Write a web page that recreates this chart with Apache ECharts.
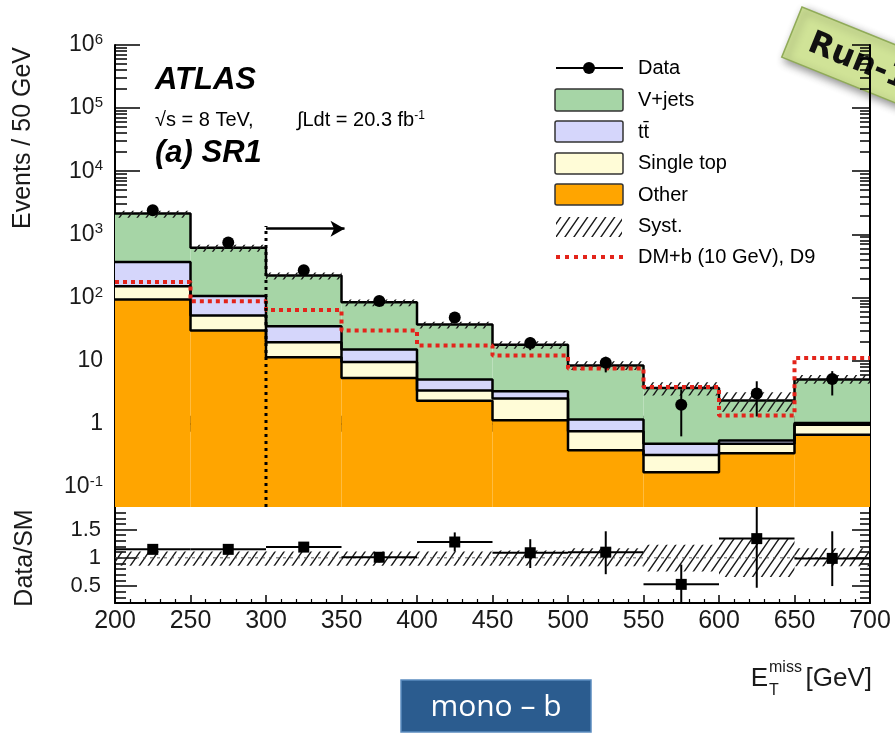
<!DOCTYPE html>
<html><head><meta charset="utf-8">
<script src="https://cdn.jsdelivr.net/npm/echarts@6/dist/echarts.min.js"></script>
<style>html,body{margin:0;padding:0;background:#fff}#c{width:895px;height:735px}</style>
</head><body><div id="c"></div>
<script>
// ---------- data ----------
const binEdges   = [200,250,300,350,400,450,500,550,600,650,700];
const binCenters = [225,275,325,375,425,475,525,575,625,675];
const other      = [93, 30, 11.3, 5.3, 2.3, 1.13, 0.38, 0.17, 0.34, 0.67];
const singleTop  = [58, 22, 8.2, 4.2, 1.05, 1.37, 0.38, 0.15, 0.14, 0.29];
const ttbar      = [212, 53, 15.5, 5.5, 1.65, 0.76, 0.40, 0.16, 0.06, 0.07];
const vjets      = [1770, 510, 188, 69, 32.3, 14.6, 7.2, 3.2, 1.8, 4.0];
const dataVals   = [2400, 740, 270, 88, 48, 19, 9.2, 2.0, 3.0, 5.1];
const dataHi     = [2450, 768, 286, 97, 55, 23.4, 11.5, 3.5, 4.7, 6.8];
const dataLo     = [2350, 713, 254, 79, 41, 14.6, 6.5, 0.63, 1.3, 2.8];
const dmSignal   = [175, 87, 63, 30, 17.3, 12, 7.5, 3.8, 1.35, 11];
const systUp     = [0.11, 0.11, 0.11, 0.11, 0.11, 0.13, 0.17, 0.23, 0.34, 0.17];
const systDown   = [0.14, 0.14, 0.14, 0.14, 0.14, 0.14, 0.15, 0.24, 0.34, 0.15];
const ratioVals  = [1.15, 1.15, 1.19, 1.01, 1.28, 1.09, 1.10, 0.53, 1.34, 0.99];
const ratioHi    = [1.18, 1.19, 1.25, 1.10, 1.45, 1.33, 1.47, 0.88, 2.10, 1.47];
const ratioLo    = [1.12, 1.11, 1.13, 0.92, 1.11, 0.82, 0.71, 0.10, 0.47, 0.50];
const yMajorTicks = [-1, 0, 1, 2, 3, 4, 5, 6];
const ratioMajorTicks = [0.5, 1, 1.5];
const ratioMinorTicks = [0.3,0.4,0.6,0.7,0.8,0.9,1.1,1.2,1.3,1.4,1.6,1.7,1.8];
const cutAt = 300, arrowTo = 352, arrowLevel = 1230, cutTop = 1350;
const layerNames  = ['Other', 'Single top', 't\u0304t', 'V+jets'];
const layerColors = ['#ffa500', '#fffcd7', '#d5d6fb', '#a6d5a6'];

// ---------- axis ranges ----------
const yMainMin = -1.32, yMainMax = 6;
const rMin = 0.2, rMax = 1.9;
const FONT = '"Liberation Sans", Arial, Helvetica, sans-serif';

const logMinorTicks = [];
for (let n = -2; n <= 5; n++) for (let k = 2; k <= 9; k++) {
  const v = Math.log10(k * Math.pow(10, n));
  if (v > yMainMin && v < yMainMax) logMinorTicks.push(v);
}

// ---------- stacking ----------
const layers = [other, singleTop, ttbar, vjets];
const cum = [];
let run = binCenters.map(() => 0);
layers.forEach(l => { run = run.map((r, i) => r + l[i]); cum.push(run.slice()); });
const total = cum[3];
const L = Math.log10;

// ---------- hatch pattern ----------
function makeHatch(w, h, color, lw) {
  const c = document.createElement('canvas'); c.width = w; c.height = h;
  const g = c.getContext('2d'); g.strokeStyle = color; g.lineWidth = lw;
  g.beginPath();
  for (let s = -1; s <= 1; s++) { g.moveTo(s * w - w, 2 * h); g.lineTo(s * w + 2 * w, -h); }
  g.stroke();
  return {image: c, repeat: 'repeat'};
}
const hatch = makeHatch(9, 13, '#1a1a1a', 1.4);

// ---------- render helpers ----------
function rectRender(fill) {
  return function (params, api) {
    const a = api.coord([api.value(0), api.value(3)]);
    const b = api.coord([api.value(1), api.value(2)]);
    return {type: 'rect', shape: {x: a[0], y: a[1], width: b[0] - a[0], height: b[1] - a[1]}, style: {fill: fill}};
  };
}
function stepData(vals) {
  const d = vals.map((v, i) => [binEdges[i], L(v)]);
  d.push([binEdges[binEdges.length - 1], L(vals[vals.length - 1])]);
  return d;
}

const series = [];
// stacked fills
layers.forEach((lay, k) => {
  series.push({
    type: 'custom', name: layerNames[k], xAxisIndex: 0, yAxisIndex: 0, z: 2, silent: true,
    renderItem: rectRender(layerColors[k]), encode: {x: [0, 1], y: [2, 3]},
    data: binCenters.map((_, i) => [binEdges[i], binEdges[i + 1], k === 0 ? yMainMin : L(cum[k - 1][i]), L(cum[k][i])])
  });
});
// outlines
cum.forEach((c, k) => {
  series.push({type: 'line', step: 'end', xAxisIndex: 0, yAxisIndex: 0, z: 3, silent: true,
    symbol: 'none', data: stepData(c), lineStyle: {color: '#000', width: 2.5}});
});
// syst band main
series.push({type: 'custom', name: 'Syst.', xAxisIndex: 0, yAxisIndex: 0, z: 4, silent: true,
  renderItem: rectRender(hatch), encode: {x: [0, 1], y: [2, 3]},
  data: binCenters.map((_, i) => [binEdges[i], binEdges[i + 1], L(total[i] * (1 - systDown[i])), L(total[i] * (1 + systUp[i]))])});
// DM signal
series.push({type: 'line', step: 'end', name: 'DM+b (10 GeV), D9', xAxisIndex: 0, yAxisIndex: 0, z: 5, silent: true,
  symbol: 'none', data: stepData(dmSignal), lineStyle: {color: '#e3241b', width: 4, type: [4, 4], cap: 'butt'}});
// cut line + arrow
series.push({type: 'line', xAxisIndex: 0, yAxisIndex: 0, z: 6, silent: true, symbol: 'none',
  data: [[cutAt, yMainMin], [cutAt, L(cutTop)]], lineStyle: {color: '#000', width: 3, type: [3, 4]},
  markLine: {silent: true, symbol: ['none', 'arrow'], symbolSize: [12, 14], label: {show: false},
    lineStyle: {color: '#000', width: 2.5, type: 'solid'},
    data: [[{coord: [cutAt, L(arrowLevel)]}, {coord: [arrowTo, L(arrowLevel)]}]]}});
// data error bars
series.push({type: 'custom', xAxisIndex: 0, yAxisIndex: 0, z: 7, silent: true,
  renderItem: function (params, api) {
    const a = api.coord([api.value(0), api.value(1)]), b = api.coord([api.value(0), api.value(2)]);
    return {type: 'line', shape: {x1: a[0], y1: a[1], x2: b[0], y2: b[1]}, style: {stroke: '#000', lineWidth: 2}};
  }, encode: {x: 0, y: [1, 2]},
  data: binCenters.map((x, i) => [x, L(dataLo[i]), L(dataHi[i])])});
series.push({type: 'scatter', name: 'Data', xAxisIndex: 0, yAxisIndex: 0, z: 8, silent: true,
  symbol: 'circle', symbolSize: 12, itemStyle: {color: '#000', opacity: 1},
  data: binCenters.map((x, i) => [x, L(dataVals[i])])});

// ratio panel
series.push({type: 'custom', xAxisIndex: 2, yAxisIndex: 4, z: 2, silent: true,
  renderItem: rectRender(hatch), encode: {x: [0, 1], y: [2, 3]},
  data: binCenters.map((_, i) => [binEdges[i], binEdges[i + 1], 1 - systDown[i], 1 + systUp[i]])});
series.push({type: 'line', xAxisIndex: 2, yAxisIndex: 4, z: 3, silent: true, symbol: 'none',
  data: [[binEdges[0], 1], [binEdges[10], 1]], lineStyle: {color: '#555', width: 1, type: [3, 4]}});
series.push({type: 'custom', xAxisIndex: 2, yAxisIndex: 4, z: 4, silent: true,
  renderItem: function (params, api) {
    const x0 = api.value(0), x1 = api.value(1), xc = api.value(2), v = api.value(3);
    const lo = Math.max(api.value(4), rMin), hi = Math.min(api.value(5), rMax);
    const h0 = api.coord([x0, v]), h1 = api.coord([x1, v]);
    const v0 = api.coord([xc, lo]), v1 = api.coord([xc, hi]);
    return {type: 'group', children: [
      {type: 'line', shape: {x1: h0[0], y1: h0[1], x2: h1[0], y2: h1[1]}, style: {stroke: '#000', lineWidth: 2}},
      {type: 'line', shape: {x1: v0[0], y1: v0[1], x2: v1[0], y2: v1[1]}, style: {stroke: '#000', lineWidth: 2}}
    ]};
  }, encode: {x: [0, 1], y: 3},
  data: binCenters.map((x, i) => [binEdges[i], binEdges[i + 1], x, ratioVals[i], ratioLo[i], ratioHi[i]])});
series.push({type: 'scatter', xAxisIndex: 2, yAxisIndex: 4, z: 5, silent: true,
  symbol: 'rect', symbolSize: 11, itemStyle: {color: '#000', opacity: 1},
  data: binCenters.map((x, i) => [x, ratioVals[i]])});

// ---------- axes ----------
const axLine = {show: true, lineStyle: {color: '#000', width: 2}};
function xAx(grid, pos, labels) {
  return {type: 'value', gridIndex: grid, position: pos, min: 200, max: 700, interval: 50,
    axisLine: axLine, splitLine: {show: false},
    axisTick: {show: true, inside: true, length: 8, lineStyle: {color: '#000', width: 1.5}},
    minorTick: {show: true, splitNumber: 5, length: 4, lineStyle: {color: '#000', width: 1.2}},
    axisLabel: labels ? {show: true, margin: 6, fontSize: 25, color: '#1a1a1a', fontFamily: FONT, showMinLabel: true, showMaxLabel: true} : {show: false}};
}
function yAx(grid, pos, min, max, ticks, len, labelOpt, showLine) {
  return {type: 'value', gridIndex: grid, position: pos, min: min, max: max,
    axisLine: showLine ? axLine : {show: false}, splitLine: {show: false},
    axisTick: {show: true, inside: true, length: len, customValues: ticks, lineStyle: {color: '#000', width: 1.5}},
    axisLabel: labelOpt || {show: false}};
}
const mainLabel = {show: true, customValues: yMajorTicks, margin: 12, fontSize: 23, color: '#1a1a1a', fontFamily: FONT,
  formatter: v => v === 0 ? '1' : (v === 1 ? '10' : '10{s|' + (v === -1 ? '-1' : String(v)) + '}'),
  rich: {s: {fontSize: 15, verticalAlign: 'top', fontFamily: FONT, color: '#1a1a1a', padding: [0, 0, 10, 0]}}};
const ratioLabel = {show: true, customValues: ratioMajorTicks, margin: 14, fontSize: 22, color: '#1a1a1a', fontFamily: FONT,
  formatter: v => String(v)};

const option = {
  animation: false,
  backgroundColor: '#fff',
  grid: [
    {left: 115, top: 45, width: 755, height: 462},
    {left: 115, top: 507, width: 755, height: 96}
  ],
  xAxis: [xAx(0, 'bottom', false), xAx(0, 'top', false), xAx(1, 'bottom', true)],
  yAxis: [
    yAx(0, 'left', yMainMin, yMainMax, yMajorTicks, 25, mainLabel, true),
    yAx(0, 'left', yMainMin, yMainMax, logMinorTicks, 12, null, false),
    yAx(0, 'right', yMainMin, yMainMax, yMajorTicks, 18, null, true),
    yAx(0, 'right', yMainMin, yMainMax, logMinorTicks, 10, null, false),
    yAx(1, 'left', rMin, rMax, ratioMajorTicks, 22, ratioLabel, true),
    yAx(1, 'left', rMin, rMax, ratioMinorTicks, 11, null, false),
    yAx(1, 'right', rMin, rMax, ratioMajorTicks, 18, null, true),
    yAx(1, 'right', rMin, rMax, ratioMinorTicks, 10, null, false)
  ],
  series: series,
  graphic: [
    // axis titles
    {type: 'text', x: 23, y: 138, rotation: Math.PI / 2, style: {text: 'Events / 50 GeV', font: '25px ' + FONT, fill: '#1a1a1a', align: 'center', verticalAlign: 'middle', textAlign: 'center', textVerticalAlign: 'middle'}},
    {type: 'text', x: 25, y: 558, rotation: Math.PI / 2, style: {text: 'Data/SM', font: '25px ' + FONT, fill: '#1a1a1a', align: 'center', verticalAlign: 'middle', textAlign: 'center', textVerticalAlign: 'middle'}},
    {type: 'text', x: 872, y: 679, style: {text: '[GeV]', font: '26px ' + FONT, fill: '#1a1a1a', align: 'right', verticalAlign: 'middle', textAlign: 'right', textVerticalAlign: 'middle'}},
    {type: 'text', x: 768, y: 679, style: {text: 'E', font: '26px ' + FONT, fill: '#1a1a1a', align: 'right', verticalAlign: 'middle', textAlign: 'right', textVerticalAlign: 'middle'}},
    {type: 'text', x: 769, y: 668, style: {text: 'miss', font: '16px ' + FONT, fill: '#1a1a1a', align: 'left', verticalAlign: 'middle', textAlign: 'left', textVerticalAlign: 'middle'}},
    {type: 'text', x: 769, y: 691, style: {text: 'T', font: '16px ' + FONT, fill: '#1a1a1a', align: 'left', verticalAlign: 'middle', textAlign: 'left', textVerticalAlign: 'middle'}},
    // ATLAS labels
    {type: 'text', x: 155, y: 80, style: {text: 'ATLAS', font: 'italic bold 31px ' + FONT, fill: '#000', verticalAlign: 'middle', textVerticalAlign: 'middle'}},
    {type: 'text', x: 155, y: 120, style: {text: '\u221As = 8 TeV,', font: '20px ' + FONT, fill: '#000', verticalAlign: 'middle', textVerticalAlign: 'middle'}},
    {type: 'text', x: 297, y: 120, style: {text: '\u222BLdt = 20.3 fb{s|-1}', font: '20px ' + FONT, fill: '#000', verticalAlign: 'middle', textVerticalAlign: 'middle',
      rich: {s: {font: '12px ' + FONT, verticalAlign: 'top', fill: '#000', padding: [0, 0, 8, 0]}}}},
    {type: 'text', x: 155, y: 153, style: {text: '(a) SR1', font: 'italic bold 31px ' + FONT, fill: '#000', verticalAlign: 'middle', textVerticalAlign: 'middle'}},
    // legend
    {type: 'line', shape: {x1: 556, y1: 68, x2: 623, y2: 68}, style: {stroke: '#000', lineWidth: 2}},
    {type: 'circle', shape: {cx: 589, cy: 68, r: 6}, style: {fill: '#000'}},
    {type: 'rect', shape: {x: 555, y: 89, width: 68, height: 22, r: 2}, style: {fill: layerColors[3], stroke: '#333', lineWidth: 1.5}},
    {type: 'rect', shape: {x: 555, y: 121, width: 68, height: 21, r: 2}, style: {fill: layerColors[2], stroke: '#333', lineWidth: 1.5}},
    {type: 'rect', shape: {x: 555, y: 153, width: 68, height: 21, r: 2}, style: {fill: layerColors[1], stroke: '#333', lineWidth: 1.5}},
    {type: 'rect', shape: {x: 555, y: 184, width: 68, height: 21, r: 2}, style: {fill: layerColors[0], stroke: '#333', lineWidth: 1.5}},
    {type: 'rect', shape: {x: 556, y: 217, width: 66, height: 20}, style: {fill: hatch}},
    {type: 'line', shape: {x1: 556, y1: 257, x2: 623, y2: 257}, style: {stroke: '#e3241b', lineWidth: 4, lineDash: [4, 5]}},
    {type: 'text', x: 638, y: 68, style: {text: 'Data', font: '20px ' + FONT, fill: '#000', verticalAlign: 'middle', textVerticalAlign: 'middle'}},
    {type: 'text', x: 638, y: 100, style: {text: 'V+jets', font: '20px ' + FONT, fill: '#000', verticalAlign: 'middle', textVerticalAlign: 'middle'}},
    {type: 'text', x: 638, y: 132, style: {text: 't\u0074\u0304', font: '20px ' + FONT, fill: '#000', verticalAlign: 'middle', textVerticalAlign: 'middle'}},
    {type: 'text', x: 638, y: 163, style: {text: 'Single top', font: '20px ' + FONT, fill: '#000', verticalAlign: 'middle', textVerticalAlign: 'middle'}},
    {type: 'text', x: 638, y: 195, style: {text: 'Other', font: '20px ' + FONT, fill: '#000', verticalAlign: 'middle', textVerticalAlign: 'middle'}},
    {type: 'text', x: 638, y: 226, style: {text: 'Syst.', font: '20px ' + FONT, fill: '#000', verticalAlign: 'middle', textVerticalAlign: 'middle'}},
    {type: 'text', x: 638, y: 257, style: {text: 'DM+b (10 GeV), D9', font: '20px ' + FONT, fill: '#000', verticalAlign: 'middle', textVerticalAlign: 'middle'}},
    // mono-b box
    {type: 'rect', shape: {x: 401, y: 680, width: 190, height: 52}, style: {fill: '#2b5c8f', stroke: '#5b8cc0', lineWidth: 1.5}},
    {type: 'text', x: 496, y: 707, style: {text: 'mono \u2013 b', font: '30px "Open Sans", ' + FONT, fill: '#fff', align: 'center', verticalAlign: 'middle', textAlign: 'center', textVerticalAlign: 'middle'}},
    // Run-1 sticker
    {type: 'group', x: 802, y: 7, rotation: -22 * Math.PI / 180, z: 100, children: [
      {type: 'rect', shape: {x: 0, y: 0, width: 200, height: 54}, style: {fill: '#d0e397', stroke: '#90ab58', lineWidth: 1.5, shadowBlur: 8, shadowColor: 'rgba(0,0,0,0.45)', shadowOffsetX: 3, shadowOffsetY: 4}},
      {type: 'text', x: 20, y: 30, style: {text: 'Run-1', font: 'bold 32px "DejaVu Sans", sans-serif', fill: '#111', verticalAlign: 'middle', textVerticalAlign: 'middle'}}
    ]}
  ]
};
const chart = echarts.init(document.getElementById('c'), null, {renderer: 'canvas'});
chart.setOption(option);
</script></body></html>
